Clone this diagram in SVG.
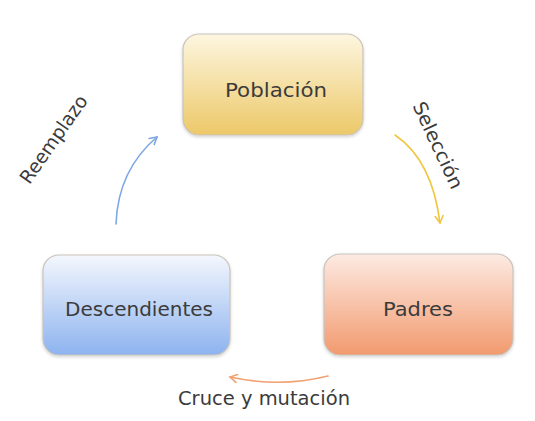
<svg xmlns="http://www.w3.org/2000/svg" width="535" height="421" viewBox="0 0 535 421">
<style>
.box{stroke:#c9c4bc;stroke-width:1.2}
.lbl{font-family:"DejaVu Sans",sans-serif;font-size:19px;fill:#3b3b3b;text-anchor:middle}
.arr{fill:none;stroke-width:1.6;stroke-linecap:round}
</style>
<defs>
<linearGradient id="gY" x1="0" y1="0" x2="0" y2="1"><stop offset="0" stop-color="#fdf6e0"/><stop offset="1" stop-color="#ecc868"/></linearGradient>
<linearGradient id="gB" x1="0" y1="0" x2="0" y2="1"><stop offset="0" stop-color="#f4f7fd"/><stop offset="1" stop-color="#8db3ef"/></linearGradient>
<linearGradient id="gO" x1="0" y1="0" x2="0" y2="1"><stop offset="0" stop-color="#fdeae3"/><stop offset="1" stop-color="#f29a6e"/></linearGradient>
<filter id="sh" x="-10%" y="-10%" width="120%" height="130%"><feDropShadow dx="0" dy="1.5" stdDeviation="1.5" flood-color="#000" flood-opacity="0.18"/></filter>
<marker id="mB" markerWidth="10" markerHeight="10" refX="8" refY="5" orient="auto" markerUnits="userSpaceOnUse"><path d="M1,1 L8,5 L1,9" fill="none" stroke="#7ea7e6" stroke-width="1.6" stroke-linecap="round"/></marker>
<marker id="mY" markerWidth="10" markerHeight="10" refX="8" refY="5" orient="auto" markerUnits="userSpaceOnUse"><path d="M1,1 L8,5 L1,9" fill="none" stroke="#f0c640" stroke-width="1.6" stroke-linecap="round"/></marker>
<marker id="mO" markerWidth="10" markerHeight="10" refX="8" refY="5" orient="auto" markerUnits="userSpaceOnUse"><path d="M1,1 L8,5 L1,9" fill="none" stroke="#f2a070" stroke-width="1.6" stroke-linecap="round"/></marker>
</defs>
<rect width="535" height="421" fill="#ffffff"/>
<g id="connectors">
<path class="arr" d="M116,224 Q118,170 157,137" stroke="#7ea7e6" marker-end="url(#mB)"/>
<path class="arr" d="M395,135 Q432,160 440,223" stroke="#f0c640" marker-end="url(#mY)"/>
<path class="arr" d="M328,376 Q280,388 230,377" stroke="#f2a070" marker-end="url(#mO)"/>
</g>
<g id="poblacion">
<rect class="box" x="183" y="34" width="180" height="101" rx="16" fill="url(#gY)" filter="url(#sh)"/>
<text class="lbl" x="276" y="97" textLength="102" lengthAdjust="spacingAndGlyphs">Población</text>
</g>
<g id="padres">
<rect class="box" x="324" y="254" width="189" height="101" rx="16" fill="url(#gO)" filter="url(#sh)"/>
<text class="lbl" x="418" y="316" textLength="70" lengthAdjust="spacingAndGlyphs">Padres</text>
</g>
<g id="descendientes">
<rect class="box" x="43" y="255" width="187" height="100" rx="16" fill="url(#gB)" filter="url(#sh)"/>
<text class="lbl" x="139" y="316" textLength="148" lengthAdjust="spacingAndGlyphs">Descendientes</text>
</g>
<g id="labels">
<text class="lbl" x="0" y="0" transform="translate(59,143) rotate(-55)" textLength="103" lengthAdjust="spacingAndGlyphs">Reemplazo</text>
<text class="lbl" x="0" y="0" transform="translate(432,148) rotate(65)" textLength="94" lengthAdjust="spacingAndGlyphs">Selección</text>
<text class="lbl" x="264" y="405" textLength="172" lengthAdjust="spacingAndGlyphs">Cruce y mutación</text>
</g>
</svg>
